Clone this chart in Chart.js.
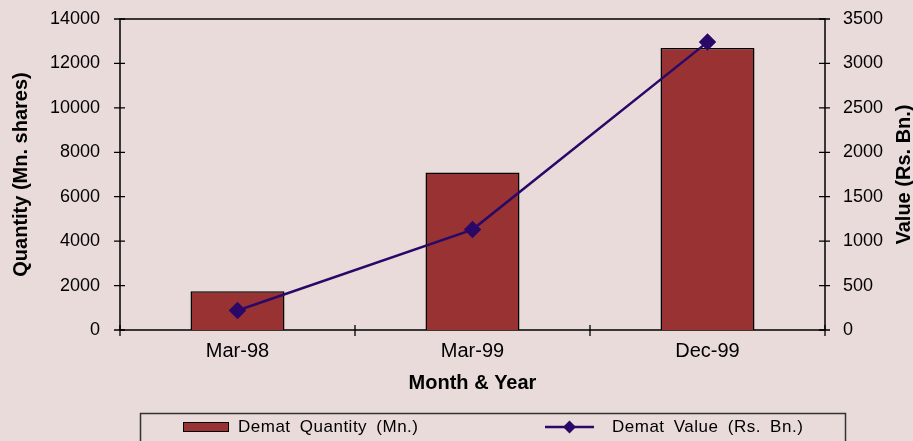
<!DOCTYPE html>
<html>
<head>
<meta charset="utf-8">
<script src="https://cdn.jsdelivr.net/npm/chart.js@4.4.1/dist/chart.umd.min.js"></script>
<style>
html,body{margin:0;padding:0;background:#EADBDB;}
#wrap{width:913px;height:441px;}
canvas{display:block;}
</style>
</head>
<body>
<div id="wrap"><canvas id="c" width="913" height="441"></canvas></div>
<script>
const categories = ['Mar-98', 'Mar-99', 'Dec-99'];
const quantityValues = [1750, 7090, 12700];
const valueValues = [220, 1130, 3240];
const seriesLabels = ['Demat Quantity (Mn.)', 'Demat Value (Rs. Bn.)'];
const axisTitles = { x: 'Month & Year', yLeft: 'Quantity (Mn. shares)', yRight: 'Value (Rs. Bn.)' };
const leftAxis = { min: 0, max: 14000, step: 2000 };
const rightAxis = { min: 0, max: 3500, step: 500 };

const BG = '#EADBDB';
const BAR = '#993333';
const LINE = '#2A0868';
const FONT = "'Liberation Sans', Arial, sans-serif";

const decor = {
  id: 'decor',
  beforeDraw(chart) {
    const ctx = chart.ctx;
    ctx.save();
    ctx.fillStyle = BG;
    ctx.fillRect(0, 0, chart.width, chart.height);
    ctx.restore();
  },
  beforeDatasetsDraw(chart) {
    const ctx = chart.ctx;
    const a = chart.chartArea;
    const ys = chart.scales.y, y2 = chart.scales.y2, xs = chart.scales.x;
    ctx.save();
    ctx.strokeStyle = '#000';
    ctx.lineWidth = 1.5;
    ctx.strokeRect(a.left, a.top, a.right - a.left, a.bottom - a.top);
    ctx.lineWidth = 1.3;
    ctx.beginPath();
    ys.ticks.forEach((t, i) => {
      const y = ys.getPixelForTick(i);
      ctx.moveTo(a.left - 6, y); ctx.lineTo(a.left + 5, y);
    });
    y2.ticks.forEach((t, i) => {
      const y = y2.getPixelForTick(i);
      ctx.moveTo(a.right - 6, y); ctx.lineTo(a.right + 5, y);
    });
    const n = xs.ticks.length;
    const bounds = [a.left];
    for (let i = 0; i < n - 1; i++) bounds.push((xs.getPixelForTick(i) + xs.getPixelForTick(i + 1)) / 2);
    bounds.push(a.right);
    bounds.forEach(x => { ctx.moveTo(x, a.bottom - 5); ctx.lineTo(x, a.bottom + 6); });
    ctx.stroke();
    ctx.restore();
  },
  afterDraw(chart) {
    const ctx = chart.ctx;
    const a = chart.chartArea;
    ctx.save();
    ctx.translate(904, (a.top + a.bottom) / 2);
    ctx.rotate(-Math.PI / 2);
    ctx.font = 'bold 20px ' + FONT;
    ctx.fillStyle = '#000';
    ctx.textAlign = 'center';
    ctx.textBaseline = 'middle';
    ctx.fillText(axisTitles.yRight, 0, 0);
    ctx.restore();

    ctx.save();
    ctx.strokeStyle = '#333';
    ctx.lineWidth = 1.5;
    ctx.strokeRect(140.5, 413.5, 705, 60);
    const ly = 427;
    ctx.fillStyle = BAR;
    ctx.fillRect(183, 422, 46, 10);
    ctx.strokeStyle = '#000';
    ctx.lineWidth = 1;
    ctx.strokeRect(183.5, 422.5, 45, 9);
    ctx.strokeStyle = LINE;
    ctx.lineWidth = 2.5;
    ctx.beginPath(); ctx.moveTo(545, ly); ctx.lineTo(594, ly); ctx.stroke();
    ctx.fillStyle = LINE;
    ctx.beginPath();
    ctx.moveTo(569.5, ly - 6.5); ctx.lineTo(576, ly); ctx.lineTo(569.5, ly + 6.5); ctx.lineTo(563, ly);
    ctx.closePath(); ctx.fill();
    ctx.fillStyle = '#000';
    ctx.font = '17px ' + FONT;
    ctx.textBaseline = 'middle';
    ctx.textAlign = 'left';
    try { ctx.letterSpacing = '0.5px'; ctx.wordSpacing = '4px'; } catch (e) {}
    ctx.fillText(seriesLabels[0], 238, ly);
    ctx.fillText(seriesLabels[1], 612, ly);
    ctx.restore();
  }
};

const plain = v => String(v);

new Chart(document.getElementById('c'), {
  data: {
    labels: categories,
    datasets: [
      {
        type: 'line', label: seriesLabels[1], data: valueValues, yAxisID: 'y2', order: 0,
        borderColor: LINE, backgroundColor: LINE, borderWidth: 2.5,
        pointStyle: 'rectRot', pointRadius: 7, pointBackgroundColor: LINE, pointBorderColor: LINE,
        tension: 0, fill: false
      },
      {
        type: 'bar', label: seriesLabels[0], data: quantityValues, yAxisID: 'y', order: 1,
        backgroundColor: BAR, borderColor: '#000', borderWidth: 1.5,
        barPercentage: 0.4, categoryPercentage: 1
      }
    ]
  },
  options: {
    responsive: false,
    devicePixelRatio: 1,
    animation: false,
    layout: { padding: { top: 19, left: 0, right: 0, bottom: 0 } },
    plugins: { legend: { display: false }, tooltip: { enabled: false } },
    scales: {
      x: {
        type: 'category', offset: true,
        grid: { display: false, drawTicks: true, tickLength: 9 },
        border: { display: false },
        ticks: { color: '#000', font: { family: FONT, size: 20 }, padding: 0 },
        title: { display: true, text: axisTitles.x, color: '#000', font: { family: FONT, size: 20, weight: 'bold' }, padding: { top: 0, bottom: 46 } },
        afterFit(s) { s.height = 111; }
      },
      y: {
        type: 'linear', position: 'left', min: leftAxis.min, max: leftAxis.max,
        grid: { display: false, drawTicks: true, tickLength: 20 },
        border: { display: false },
        ticks: { stepSize: leftAxis.step, color: '#000', font: { family: FONT, size: 18 }, padding: 0, callback: plain },
        title: { display: true, text: axisTitles.yLeft, color: '#000', font: { family: FONT, size: 20, weight: 'bold' }, padding: { top: 9, bottom: 0 } },
        afterFit(s) { s.width = 120; }
      },
      y2: {
        type: 'linear', position: 'right', min: rightAxis.min, max: rightAxis.max,
        grid: { display: false, drawTicks: true, tickLength: 18 },
        border: { display: false },
        ticks: { stepSize: rightAxis.step, color: '#000', font: { family: FONT, size: 18 }, padding: 0, callback: plain },
        afterFit(s) { s.width = 88; }
      }
    }
  },
  plugins: [decor]
});
</script>
</body>
</html>
